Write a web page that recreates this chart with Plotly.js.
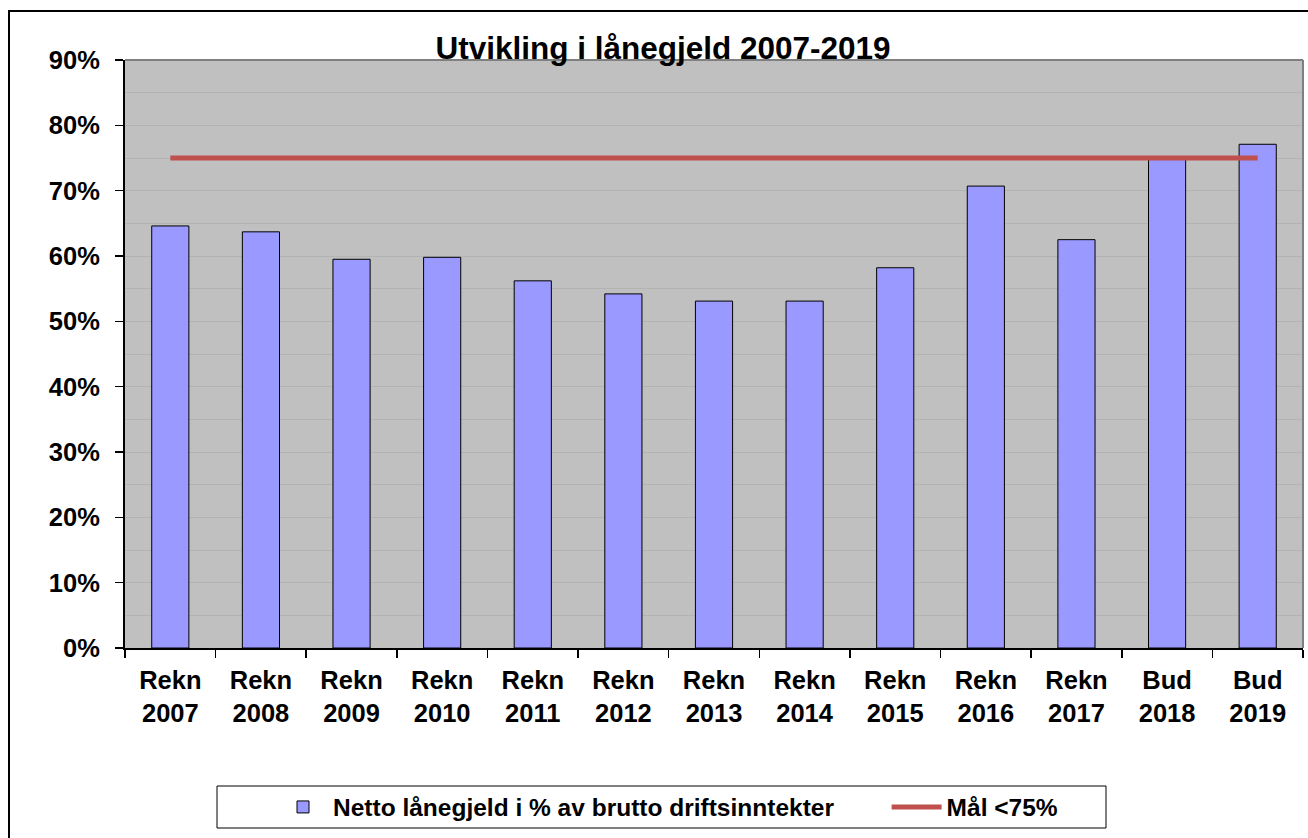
<!DOCTYPE html>
<html>
<head>
<meta charset="utf-8">
<script src="https://cdn.plot.ly/plotly-3.0.1.min.js"></script>
<style>
  html, body { margin: 0; padding: 0; background: #fff; }
  #chart { width: 1308px; height: 838px; }
</style>
</head>
<body>
<div id="chart"></div>
<script>
const categories = ["Rekn<br>2007", "Rekn<br>2008", "Rekn<br>2009", "Rekn<br>2010", "Rekn<br>2011",
  "Rekn<br>2012", "Rekn<br>2013", "Rekn<br>2014", "Rekn<br>2015", "Rekn<br>2016",
  "Rekn<br>2017", "Bud<br>2018", "Bud<br>2019"];
const nettoLanegjeld = [0.646, 0.637, 0.595, 0.598, 0.562, 0.542, 0.531, 0.531, 0.582, 0.707, 0.625, 0.751, 0.771];
const malValues = [0.75, 0.75, 0.75, 0.75, 0.75, 0.75, 0.75, 0.75, 0.75, 0.75, 0.75, 0.75, 0.75];
const seriesNames = ["Netto lånegjeld i % av brutto driftsinntekter", "Mål <75%"];
const chartTitle = "Utvikling i lånegjeld 2007-2019";

const FONT = "Liberation Sans, Arial, sans-serif";
const PAD = "\u00a0\u00a0\u00a0\u00a0\u00a0\u00a0\u00a0";

const traces = [
  {
    type: "bar",
    x: categories,
    y: nettoLanegjeld,
    name: seriesNames[0] + PAD,
    marker: { color: "#9999ff", line: { color: "#000000", width: 1 } },
    hoverinfo: "x+y"
  },
  {
    type: "scatter",
    mode: "lines",
    x: categories,
    y: malValues,
    name: seriesNames[1],
    line: { color: "#c0504d", width: 5 }
  }
];

const W = 1308, H = 838;
const L = 125, R = 1303, T = 60, B = 648;
const px2x = p => (p - L) / (R - L);
const px2y = p => (B - p) / (B - T);

const layout = {
  width: W,
  height: H,
  margin: { l: L, r: W - R, t: T, b: H - B, autoexpand: false },
  paper_bgcolor: "#ffffff",
  plot_bgcolor: "#c0c0c0",
  font: { family: FONT, color: "#000000", size: 24, weight: 700 },
  title: {
    text: chartTitle,
    font: { family: FONT, size: 31.5, weight: 700, color: "#000000" },
    xref: "paper",
    x: px2x(663),
    xanchor: "center",
    yref: "container",
    y: 1 - 48 / H,
    yanchor: "middle"
  },
  bargap: 0.59,
  showlegend: true,
  legend: {
    orientation: "h",
    xref: "container",
    yref: "container",
    x: 273 / W,
    xanchor: "left",
    y: 1 - 807 / H,
    yanchor: "middle",
    font: { family: FONT, size: 24.5, weight: 700, color: "#000000" },
    bgcolor: "rgba(0,0,0,0)",
    borderwidth: 0,
    itemwidth: 50,
    traceorder: "normal"
  },
  xaxis: {
    type: "category",
    showline: true,
    linecolor: "#000000",
    linewidth: 2,
    ticks: "outside",
    tickson: "boundaries",
    ticklen: 8,
    tickcolor: "#000000",
    tickwidth: 1.5,
    showgrid: false,
    zeroline: false,
    ticklabelstandoff: 8,
    tickfont: { family: FONT, size: 25.5, weight: 700, color: "#000000" },
    fixedrange: true
  },
  yaxis: {
    range: [0, 0.9],
    dtick: 0.1,
    tick0: 0,
    tickformat: ".0%",
    showline: true,
    linecolor: "#000000",
    linewidth: 2,
    ticks: "outside",
    ticklen: 8,
    tickcolor: "#000000",
    tickwidth: 1.5,
    showgrid: true,
    gridcolor: "#b3b3b3",
    gridwidth: 1,
    minor: { dtick: 0.05, showgrid: true, gridcolor: "#b3b3b3", gridwidth: 1 },
    zeroline: false,
    ticklabelstandoff: 10,
    tickfont: { family: FONT, size: 25.5, weight: 700, color: "#000000" },
    fixedrange: true
  },
  shapes: [
    { type: "line", xref: "paper", yref: "paper", x0: 0, x1: 1, y0: 1, y1: 1,
      line: { color: "#808080", width: 2 } },
    { type: "line", xref: "paper", yref: "paper", x0: 1, x1: 1, y0: 0, y1: 1,
      line: { color: "#808080", width: 2 } },
    { type: "rect", xref: "paper", yref: "paper",
      x0: px2x(217), x1: px2x(1106), y0: px2y(828), y1: px2y(786),
      line: { color: "#000000", width: 1 }, fillcolor: "rgba(0,0,0,0)" },
    { type: "rect", xref: "paper", yref: "paper",
      x0: px2x(9), x1: px2x(1330), y0: px2y(900), y1: px2y(11),
      line: { color: "#000000", width: 2 }, fillcolor: "rgba(0,0,0,0)" }
  ]
};

Plotly.newPlot("chart", traces, layout, { displayModeBar: false, staticPlot: true });
</script>
</body>
</html>
